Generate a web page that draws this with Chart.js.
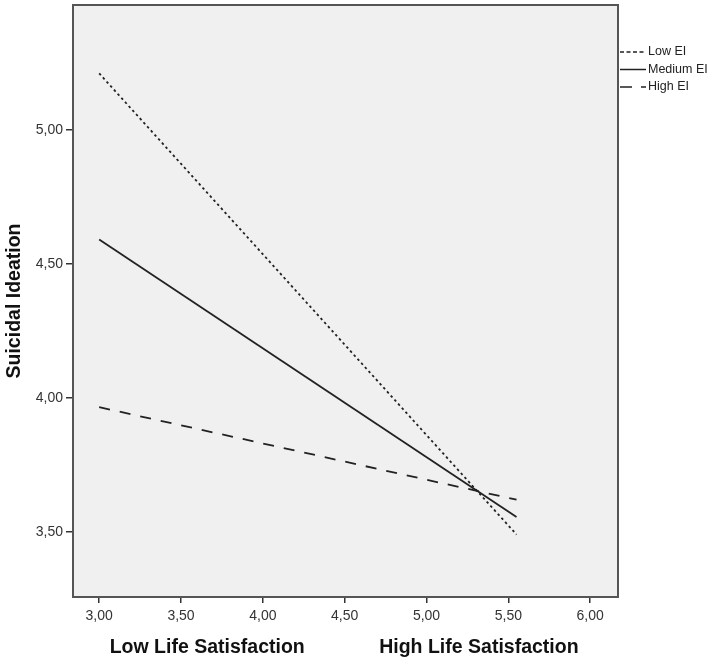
<!DOCTYPE html>
<html>
<head>
<meta charset="utf-8">
<script src="https://cdn.jsdelivr.net/npm/chart.js@4"></script>
<style>
  html, body { margin: 0; padding: 0; background: #fff; }
  #wrap { width: 716px; height: 664px; }
</style>
</head>
<body>
<div id="wrap"><canvas id="chart" width="716" height="664"></canvas></div>
<script>
// Life satisfaction levels (x) and predicted suicidal ideation per EI level
const xLevels = [3.00, 5.55];
const lowEI = [5.21, 3.49];
const mediumEI = [4.59, 3.555];
const highEI = [3.965, 3.62];
const seriesNames = ['Low EI', 'Medium EI', 'High EI'];
const xTicks = [3.0, 3.5, 4.0, 4.5, 5.0, 5.5, 6.0];
const yTicks = [3.5, 4.0, 4.5, 5.0];
const groupLabels = ['Low Life Satisfaction', 'High Life Satisfaction'];
const groupLabelAt = [3.66, 5.32];

const toPoints = ys => xLevels.map((x, i) => ({ x: x, y: ys[i] }));
const fmt = v => Number(v).toFixed(2).replace('.', ',');
const FONT = '"Liberation Sans", Arial, sans-serif';

// gray plot background + frame, legend and group labels
const frame = {
    id: 'frame',
    beforeDraw(chart) {
        const a = chart.chartArea, c = chart.ctx;
        c.save();
        c.fillStyle = '#f0f0f0';
        c.fillRect(a.left, a.top, a.right - a.left, a.bottom - a.top);
        c.restore();
    },
    afterDraw(chart) {
        const a = chart.chartArea, c = chart.ctx;
        c.save();
        c.strokeStyle = '#555';
        c.lineWidth = 2;
        c.strokeRect(a.left, a.top, a.right - a.left, a.bottom - a.top);

        // legend, outside at right
        chart.data.datasets.forEach((ds, i) => {
            const y = 52 + i * 17.5;
            c.beginPath();
            c.setLineDash(ds.legendDash);
            c.lineWidth = 1.5;
            c.strokeStyle = '#222';
            c.moveTo(620, y);
            c.lineTo(646, y);
            c.stroke();
            c.setLineDash([]);
            c.fillStyle = '#222';
            c.font = '12.5px ' + FONT;
            c.textBaseline = 'middle';
            c.fillText(ds.label, 648, y);
        });

        // group labels under the x axis
        const xs = chart.scales.x;
        c.fillStyle = '#111';
        c.font = 'bold 19.5px ' + FONT;
        c.textAlign = 'center';
        c.textBaseline = 'middle';
        groupLabels.forEach((t, i) => c.fillText(t, xs.getPixelForValue(groupLabelAt[i]), 648));
        c.restore();
    }
};

const ctx = document.getElementById('chart').getContext('2d');
new Chart(ctx, {
    type: 'line',
    data: {
        datasets: [
            { label: seriesNames[0], data: toPoints(lowEI), borderDash: [2.5, 3], legendDash: [4, 2.5] },
            { label: seriesNames[1], data: toPoints(mediumEI), borderDash: [], legendDash: [] },
            { label: seriesNames[2], data: toPoints(highEI), borderDash: [11, 10], legendDash: [12, 9] }
        ].map(d => Object.assign(d, {
            borderColor: '#222',
            borderWidth: 1.8,
            pointRadius: 0,
            fill: false,
            tension: 0
        }))
    },
    options: {
        responsive: false,
        animation: false,
        layout: { padding: { top: 5, right: 98, left: 0, bottom: 0 } },
        plugins: { legend: { display: false }, tooltip: { enabled: false } },
        scales: {
            x: {
                type: 'linear',
                min: 2.84,
                max: 6.17,
                afterBuildTicks: s => { s.ticks = xTicks.map(v => ({ value: v })); },
                afterFit: s => { s.height = 67; s.paddingLeft = 0; s.paddingRight = 0; },
                grid: { drawOnChartArea: false, drawTicks: true, tickLength: 6, color: '#333', lineWidth: 1.5 },
                border: { display: false },
                ticks: {
                    color: '#333',
                    padding: 5,
                    maxRotation: 0,
                    font: { size: 14, family: FONT },
                    callback: v => fmt(v)
                }
            },
            y: {
                type: 'linear',
                min: 3.257,
                max: 5.465,
                afterBuildTicks: s => { s.ticks = yTicks.map(v => ({ value: v })); },
                afterFit: s => { s.width = 73; s.paddingTop = 0; s.paddingBottom = 0; },
                grid: { drawOnChartArea: false, drawTicks: true, tickLength: 7, color: '#333', lineWidth: 1.5 },
                border: { display: false },
                title: {
                    display: true,
                    text: 'Suicidal Ideation',
                    color: '#111',
                    padding: { top: 3, bottom: 0 },
                    font: { size: 19.5, weight: 'bold', family: FONT }
                },
                ticks: {
                    color: '#333',
                    padding: 3,
                    font: { size: 14, family: FONT },
                    callback: v => fmt(v)
                }
            }
        }
    },
    plugins: [frame]
});
</script>
</body>
</html>
